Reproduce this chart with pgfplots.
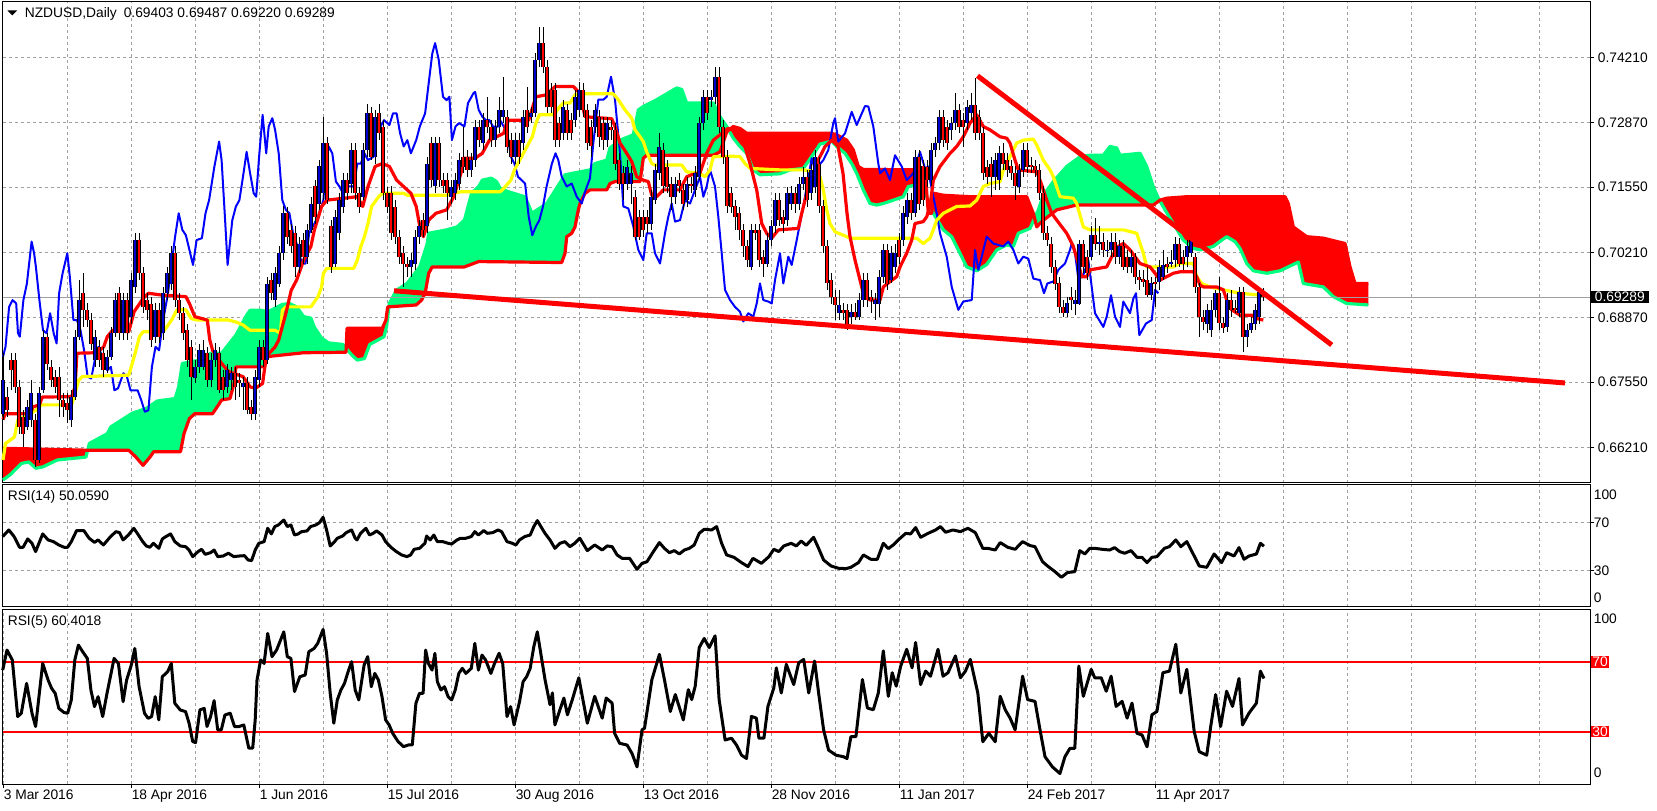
\documentclass[border=0pt]{standalone}
\usepackage{fontspec}
\setmainfont{Liberation Sans}
\usepackage{pgfplots}
\pgfplotsset{compat=1.18}
\usepackage{pgfplotstable}

\definecolor{cloudgreen}{RGB}{0,255,127}
\definecolor{mtred}{RGB}{255,0,0}
\definecolor{mtblue}{RGB}{0,0,255}
\definecolor{bullblue}{RGB}{0,0,205}
\definecolor{mtyellow}{RGB}{255,255,0}
\definecolor{gridgray}{RGB}{160,160,160}

% one screen pixel = 0.25pt
\newcommand\mtfont{\fontsize{3.45}{3.8}\selectfont}

% daily candles NZDUSD, one row per bar (x = 3 + 4*index, in screen px)
\pgfplotstableread{
o h l c
0.6690 0.6814 0.6677 0.6759
0.6725 0.6745 0.6684 0.6697
0.6800 0.6814 0.6738 0.6779
0.6800 0.6814 0.6732 0.6745
0.6745 0.6759 0.6649 0.6663
0.6683 0.6697 0.6622 0.6649
0.6663 0.6718 0.6656 0.6704
0.6677 0.6759 0.6663 0.6732
0.6677 0.6690 0.6581 0.6595
0.6595 0.6745 0.6588 0.6732
0.6738 0.6861 0.6732 0.6848
0.6848 0.6855 0.6779 0.6793
0.6786 0.6800 0.6745 0.6759
0.6766 0.6779 0.6732 0.6745
0.6766 0.6786 0.6683 0.6718
0.6718 0.6732 0.6683 0.6704
0.6711 0.6732 0.6670 0.6697
0.6677 0.6738 0.6663 0.6725
0.6725 0.6861 0.6718 0.6848
0.6848 0.6964 0.6841 0.6923
0.6937 0.6978 0.6868 0.6903
0.6903 0.6916 0.6868 0.6882
0.6882 0.6896 0.6820 0.6834
0.6800 0.6861 0.6786 0.6848
0.6827 0.6841 0.6786 0.6800
0.6814 0.6827 0.6766 0.6779
0.6779 0.6820 0.6773 0.6807
0.6807 0.6868 0.6800 0.6855
0.6855 0.6937 0.6848 0.6923
0.6937 0.6950 0.6841 0.6855
0.6855 0.6937 0.6841 0.6923
0.6923 0.6937 0.6841 0.6855
0.6889 0.6978 0.6875 0.6964
0.6950 0.7060 0.6937 0.7046
0.7046 0.7060 0.6964 0.6978
0.6978 0.6991 0.6896 0.6909
0.6923 0.6937 0.6882 0.6903
0.6916 0.6930 0.6827 0.6841
0.6848 0.6916 0.6834 0.6903
0.6903 0.6916 0.6834 0.6848
0.6855 0.6950 0.6841 0.6937
0.6937 0.6991 0.6923 0.6978
0.6957 0.7033 0.6944 0.7019
0.7019 0.7033 0.6909 0.6923
0.6923 0.6937 0.6882 0.6896
0.6896 0.6909 0.6841 0.6855
0.6861 0.6875 0.6786 0.6800
0.6827 0.6841 0.6718 0.6766
0.6763 0.6800 0.6752 0.6786
0.6786 0.6834 0.6773 0.6820
0.6786 0.6841 0.6779 0.6820
0.6814 0.6827 0.6745 0.6759
0.6759 0.6814 0.6745 0.6800
0.6800 0.6834 0.6786 0.6820
0.6814 0.6827 0.6732 0.6738
0.6766 0.6779 0.6718 0.6738
0.6745 0.6793 0.6732 0.6779
0.6759 0.6786 0.6738 0.6773
0.6773 0.6786 0.6718 0.6745
0.6759 0.6773 0.6725 0.6752
0.6745 0.6766 0.6697 0.6752
0.6752 0.6766 0.6690 0.6697
0.6704 0.6718 0.6677 0.6690
0.6690 0.6779 0.6677 0.6766
0.6759 0.6841 0.6745 0.6827
0.6827 0.6841 0.6786 0.6800
0.6800 0.6971 0.6793 0.6957
0.6964 0.6978 0.6923 0.6937
0.6923 0.6991 0.6909 0.6978
0.6957 0.7033 0.6950 0.7019
0.7019 0.7115 0.7005 0.7101
0.7101 0.7115 0.7039 0.7053
0.7067 0.7080 0.7019 0.7033
0.7060 0.7074 0.6971 0.6991
0.6991 0.7053 0.6978 0.7039
0.7046 0.7060 0.6998 0.7012
0.7012 0.7080 0.6998 0.7067
0.7067 0.7135 0.7060 0.7121
0.7156 0.7169 0.7080 0.7094
0.7121 0.7210 0.7108 0.7197
0.7142 0.7299 0.7128 0.7245
0.7245 0.7258 0.7121 0.7128
0.7074 0.7087 0.6978 0.6991
0.6998 0.7108 0.6991 0.7094
0.7060 0.7142 0.7046 0.7128
0.7115 0.7183 0.7101 0.7169
0.7169 0.7183 0.7128 0.7142
0.7162 0.7245 0.7142 0.7231
0.7231 0.7245 0.7128 0.7142
0.7142 0.7156 0.7101 0.7115
0.7135 0.7245 0.7128 0.7231
0.7231 0.7326 0.7217 0.7306
0.7306 0.7320 0.7210 0.7217
0.7217 0.7313 0.7203 0.7299
0.7306 0.7326 0.7251 0.7265
0.7279 0.7292 0.7128 0.7142
0.7142 0.7156 0.7101 0.7115
0.7142 0.7156 0.7046 0.7060
0.7115 0.7128 0.7039 0.7053
0.7053 0.7067 0.6998 0.7012
0.7019 0.7033 0.6950 0.6998
0.6998 0.7012 0.6971 0.6991
0.6991 0.7019 0.6971 0.7005
0.6998 0.7067 0.6985 0.7053
0.7053 0.7087 0.7039 0.7074
0.7087 0.7101 0.7053 0.7067
0.7074 0.7217 0.7060 0.7203
0.7245 0.7258 0.7156 0.7169
0.7156 0.7258 0.7142 0.7245
0.7245 0.7258 0.7156 0.7169
0.7169 0.7183 0.7142 0.7156
0.7169 0.7183 0.7087 0.7142
0.7135 0.7169 0.7121 0.7156
0.7142 0.7183 0.7128 0.7169
0.7162 0.7224 0.7149 0.7210
0.7217 0.7279 0.7183 0.7197
0.7217 0.7231 0.7176 0.7190
0.7190 0.7224 0.7176 0.7210
0.7210 0.7292 0.7197 0.7279
0.7279 0.7292 0.7238 0.7251
0.7245 0.7306 0.7231 0.7292
0.7292 0.7340 0.7265 0.7279
0.7279 0.7292 0.7238 0.7251
0.7251 0.7292 0.7238 0.7279
0.7279 0.7340 0.7265 0.7313
0.7299 0.7381 0.7286 0.7313
0.7299 0.7313 0.7224 0.7238
0.7251 0.7265 0.7203 0.7217
0.7217 0.7265 0.7203 0.7251
0.7251 0.7265 0.7203 0.7217
0.7245 0.7313 0.7231 0.7299
0.7313 0.7361 0.7265 0.7279
0.7299 0.7320 0.7286 0.7306
0.7306 0.7429 0.7299 0.7416
0.7416 0.7484 0.7402 0.7450
0.7450 0.7484 0.7388 0.7402
0.7402 0.7416 0.7306 0.7320
0.7354 0.7368 0.7306 0.7320
0.7354 0.7368 0.7238 0.7251
0.7286 0.7299 0.7238 0.7251
0.7265 0.7333 0.7251 0.7320
0.7313 0.7326 0.7251 0.7265
0.7292 0.7306 0.7251 0.7265
0.7292 0.7354 0.7279 0.7340
0.7313 0.7371 0.7299 0.7354
0.7354 0.7368 0.7299 0.7313
0.7313 0.7326 0.7231 0.7245
0.7279 0.7292 0.7217 0.7238
0.7279 0.7326 0.7265 0.7313
0.7299 0.7313 0.7238 0.7258
0.7286 0.7299 0.7231 0.7251
0.7251 0.7299 0.7238 0.7286
0.7279 0.7292 0.7251 0.7272
0.7272 0.7286 0.7190 0.7203
0.7210 0.7224 0.7149 0.7162
0.7183 0.7197 0.7128 0.7162
0.7162 0.7210 0.7149 0.7197
0.7162 0.7197 0.7121 0.7183
0.7135 0.7149 0.7046 0.7053
0.7094 0.7108 0.7046 0.7053
0.7094 0.7108 0.7053 0.7067
0.7094 0.7108 0.7060 0.7080
0.7080 0.7149 0.7067 0.7135
0.7128 0.7203 0.7121 0.7190
0.7183 0.7265 0.7169 0.7238
0.7231 0.7245 0.7142 0.7156
0.7197 0.7210 0.7142 0.7156
0.7162 0.7176 0.7108 0.7135
0.7135 0.7176 0.7121 0.7162
0.7169 0.7183 0.7142 0.7156
0.7149 0.7162 0.7108 0.7121
0.7128 0.7176 0.7115 0.7162
0.7162 0.7176 0.7142 0.7156
0.7149 0.7197 0.7135 0.7183
0.7176 0.7299 0.7169 0.7286
0.7286 0.7354 0.7272 0.7340
0.7340 0.7354 0.7292 0.7306
0.7333 0.7354 0.7320 0.7340
0.7340 0.7402 0.7326 0.7381
0.7381 0.7402 0.7265 0.7279
0.7279 0.7292 0.7203 0.7217
0.7217 0.7231 0.7101 0.7115
0.7142 0.7156 0.7101 0.7115
0.7115 0.7128 0.7067 0.7094
0.7101 0.7115 0.7046 0.7067
0.7067 0.7080 0.7012 0.7033
0.7033 0.7046 0.6991 0.7005
0.6991 0.7080 0.6985 0.7067
0.7067 0.7080 0.7046 0.7060
0.7067 0.7080 0.6991 0.7005
0.7012 0.7026 0.6971 0.6998
0.6998 0.7060 0.6991 0.7046
0.7046 0.7087 0.7033 0.7074
0.7074 0.7142 0.7060 0.7128
0.7128 0.7142 0.7074 0.7087
0.7094 0.7108 0.7060 0.7080
0.7087 0.7156 0.7074 0.7142
0.7121 0.7156 0.7108 0.7142
0.7142 0.7156 0.7101 0.7121
0.7121 0.7176 0.7108 0.7162
0.7162 0.7197 0.7149 0.7176
0.7176 0.7190 0.7115 0.7128
0.7142 0.7203 0.7128 0.7190
0.7156 0.7231 0.7142 0.7217
0.7203 0.7217 0.7101 0.7115
0.7115 0.7128 0.7019 0.7033
0.7033 0.7046 0.6944 0.6957
0.6964 0.6978 0.6916 0.6930
0.6930 0.6944 0.6882 0.6913
0.6896 0.6944 0.6882 0.6913
0.6903 0.6916 0.6882 0.6896
0.6903 0.6916 0.6861 0.6875
0.6889 0.6916 0.6875 0.6899
0.6899 0.6916 0.6882 0.6889
0.6889 0.6937 0.6882 0.6923
0.6923 0.6978 0.6909 0.6964
0.6964 0.6978 0.6909 0.6923
0.6930 0.6944 0.6896 0.6923
0.6916 0.6937 0.6882 0.6923
0.6916 0.6985 0.6889 0.6971
0.6971 0.7039 0.6957 0.7026
0.7026 0.7039 0.6944 0.6957
0.6964 0.7033 0.6957 0.7019
0.6991 0.7039 0.6978 0.7019
0.7046 0.7060 0.6998 0.7012
0.7046 0.7115 0.7033 0.7101
0.7094 0.7142 0.7080 0.7128
0.7128 0.7142 0.7087 0.7101
0.7101 0.7231 0.7094 0.7217
0.7217 0.7231 0.7108 0.7121
0.7197 0.7210 0.7115 0.7128
0.7197 0.7210 0.7156 0.7169
0.7169 0.7245 0.7156 0.7231
0.7231 0.7258 0.7217 0.7245
0.7245 0.7313 0.7231 0.7299
0.7299 0.7313 0.7238 0.7251
0.7279 0.7292 0.7231 0.7245
0.7272 0.7299 0.7251 0.7286
0.7286 0.7347 0.7272 0.7313
0.7313 0.7326 0.7265 0.7279
0.7292 0.7306 0.7238 0.7279
0.7286 0.7333 0.7272 0.7320
0.7306 0.7347 0.7292 0.7323
0.7323 0.7378 0.7251 0.7265
0.7299 0.7313 0.7251 0.7265
0.7265 0.7279 0.7169 0.7183
0.7197 0.7210 0.7162 0.7176
0.7203 0.7217 0.7135 0.7176
0.7176 0.7224 0.7149 0.7210
0.7169 0.7238 0.7149 0.7224
0.7224 0.7245 0.7190 0.7203
0.7210 0.7224 0.7176 0.7190
0.7197 0.7210 0.7169 0.7183
0.7183 0.7197 0.7128 0.7156
0.7156 0.7203 0.7142 0.7190
0.7190 0.7245 0.7176 0.7231
0.7231 0.7245 0.7183 0.7197
0.7200 0.7217 0.7183 0.7197
0.7197 0.7210 0.7176 0.7190
0.7190 0.7203 0.7128 0.7142
0.7142 0.7156 0.7046 0.7060
0.7060 0.7074 0.7033 0.7046
0.7039 0.7053 0.6978 0.6991
0.6991 0.7005 0.6944 0.6957
0.6957 0.6971 0.6896 0.6909
0.6909 0.6923 0.6889 0.6896
0.6896 0.6930 0.6889 0.6916
0.6930 0.6950 0.6903 0.6923
0.6916 0.6944 0.6892 0.6923
0.6916 0.7046 0.6913 0.7039
0.7039 0.7046 0.6978 0.6991
0.7012 0.7026 0.6964 0.6978
0.7012 0.7074 0.7005 0.7056
0.7056 0.7091 0.7026 0.7039
0.7039 0.7074 0.7015 0.7043
0.7043 0.7060 0.7012 0.7026
0.7024 0.7046 0.7012 0.7026
0.7026 0.7060 0.7012 0.7043
0.7043 0.7060 0.6998 0.7012
0.7012 0.7046 0.6998 0.7033
0.7033 0.7046 0.6985 0.6991
0.7012 0.7026 0.6978 0.6991
0.6991 0.7026 0.6978 0.7012
0.7012 0.7019 0.6957 0.6971
0.6971 0.6985 0.6944 0.6964
0.6967 0.6985 0.6950 0.6960
0.6964 0.6991 0.6930 0.6934
0.6934 0.6971 0.6923 0.6957
0.6960 0.6971 0.6909 0.6957
0.6960 0.7005 0.6944 0.6991
0.6971 0.7026 0.6964 0.6995
0.6998 0.7012 0.6978 0.6991
0.6998 0.7026 0.6991 0.7002
0.7005 0.7053 0.6991 0.7039
0.7039 0.7050 0.6991 0.6998
0.7012 0.7026 0.6985 0.6998
0.7012 0.7046 0.6991 0.7033
0.7019 0.7053 0.7012 0.7046
0.7012 0.7019 0.6937 0.6950
0.6950 0.6957 0.6848 0.6889
0.6889 0.6903 0.6861 0.6879
0.6875 0.6916 0.6855 0.6903
0.6861 0.6923 0.6848 0.6903
0.6903 0.6944 0.6889 0.6937
0.6937 0.6971 0.6861 0.6875
0.6875 0.6889 0.6855 0.6865
0.6868 0.6937 0.6858 0.6923
0.6923 0.6944 0.6889 0.6903
0.6906 0.6923 0.6896 0.6903
0.6896 0.6950 0.6889 0.6940
0.6940 0.6950 0.6817 0.6848
0.6848 0.6875 0.6827 0.6861
0.6861 0.6889 0.6855 0.6875
0.6875 0.6916 0.6861 0.6903
0.6889 0.6947 0.6875 0.6940
0.69403 0.69487 0.69220 0.69289
}\candles

% Ichimoku: Senkou span A (green) and B (red), shifted 26 bars ahead
\pgfplotstableread{
x y
3 0.6554
10.9 0.6566
18 0.6581
21.6 0.6588
28.7 0.6591
35.9 0.6578
43 0.6581
50.1 0.6588
57.3 0.6595
71.6 0.6598
85.9 0.6601
89.4 0.6629
107.3 0.6649
110.9 0.6663
121.6 0.6677
132.3 0.6691
146.6 0.6701
157.3 0.6716
175.1 0.6721
178.7 0.6745
182.3 0.6793
200.1 0.6800
210.9 0.6814
221.6 0.6814
235.9 0.6851
246.6 0.6892
250.1 0.6902
260.9 0.6902
268 0.6899
282.3 0.6914
289.4 0.6916
296.6 0.6909
303.7 0.6889
310.9 0.6886
314.4 0.6867
321.6 0.6845
328.7 0.6835
343 0.6832
351.9 0.6810
357.3 0.6800
364.4 0.6803
369.7 0.6832
375.1 0.6838
384 0.6848
386.6 0.6869
389.3 0.6916
396.4 0.6943
407 0.6957
419.8 0.6991
427 0.7037
428.7 0.7060
446.6 0.7067
457 0.7073
464.4 0.7087
471.6 0.7142
478.7 0.7156
482.3 0.7169
491.3 0.7173
496.6 0.7166
500.1 0.7152
507.3 0.7146
519.8 0.7138
525 0.7135
532 0.7101
546.7 0.7121
553.3 0.7142
565 0.7180
590 0.7190
595 0.7203
606.7 0.7210
610 0.7235
620 0.7251
633.3 0.7262
638.3 0.7313
643.3 0.7320
656.7 0.7334
676.7 0.7358
681.7 0.7355
686.7 0.7327
713.3 0.7327
720 0.7299
726.7 0.7279
733.3 0.7255
740 0.7238
746.7 0.7224
753.3 0.7190
760 0.7180
780 0.7182
790 0.7190
803.3 0.7193
815 0.7227
820 0.7243
831.7 0.7249
836.7 0.7238
845 0.7224
851.7 0.7203
856.7 0.7183
863.3 0.7149
870 0.7121
876.7 0.7118
883.3 0.7121
903.3 0.7135
908.3 0.7156
916.7 0.7159
923.3 0.7149
928.3 0.7128
933.3 0.7101
943.3 0.7067
951.7 0.7053
960 0.7019
966.7 0.6991
976.7 0.6983
986.7 0.6996
996.7 0.7026
1006.7 0.7036
1013.3 0.7033
1018.3 0.7060
1030 0.7070
1038.3 0.7108
1043.3 0.7138
1053.3 0.7166
1066.7 0.7197
1080 0.7217
1090 0.7220
1103.3 0.7220
1110 0.7238
1116.7 0.7235
1120 0.7220
1140 0.7224
1146.7 0.7197
1153.3 0.7155
1158.3 0.7132
1165 0.7108
1173.3 0.7080
1183.3 0.7046
1193.3 0.7029
1200 0.7026
1213.3 0.7033
1221.7 0.7046
1226.7 0.7053
1235 0.7043
1240 0.7029
1246.7 0.6998
1253.3 0.6983
1266.7 0.6978
1280 0.6983
1298.3 0.7001
1303.3 0.6957
1323.3 0.6950
1333.3 0.6930
1346.7 0.6916
1368.3 0.6913
}\spanA

\pgfplotstableread{
x y
3 0.6619
89.4 0.6615
128.7 0.6615
135.9 0.6601
143 0.6584
150 0.6601
153.7 0.6612
180.5 0.6612
184 0.6649
189.4 0.6680
194.8 0.6690
212.6 0.6690
216.2 0.6701
221.6 0.6718
230 0.6721
234 0.6752
235.9 0.6786
264.4 0.6786
267.3 0.6807
303.7 0.6815
346 0.6816
347 0.6865
382.3 0.6865
385.9 0.6882
387.7 0.6909
416.2 0.6913
421.6 0.6923
425.1 0.6937
428.7 0.6978
432.2 0.6991
464.4 0.6991
478.7 0.7002
561.7 0.7000
565 0.7019
566.7 0.7053
571.7 0.7060
575 0.7073
578.3 0.7108
580 0.7121
585 0.7142
590 0.7149
606.7 0.7149
610 0.7162
615 0.7166
640 0.7166
643.3 0.7214
646.7 0.7220
713.3 0.7220
720 0.7227
726.7 0.7268
733.3 0.7279
740 0.7275
746.7 0.7265
831.7 0.7265
836.7 0.7262
846.7 0.7251
853.3 0.7231
858.3 0.7197
863.3 0.7191
925 0.7190
928.3 0.7101
931.7 0.7101
934 0.7142
943.3 0.7138
970 0.7135
1026.7 0.7135
1033.3 0.7101
1036.7 0.7073
1041.7 0.7084
1056.7 0.7108
1076.7 0.7118
1153.3 0.7118
1160 0.7128
1166.7 0.7132
1186.7 0.7135
1285 0.7135
1288.3 0.7121
1293.3 0.7073
1306.7 0.7053
1323.3 0.7050
1345 0.7039
1350 0.6991
1355 0.6957
1368.3 0.6957
}\spanB

% Tenkan-sen (red)
\pgfplotstableread{
x y
3 0.6678
5.5 0.6690
30.5 0.6690
33 0.6704
39.4 0.6708
42.3 0.6724
71.6 0.6725
75.1 0.6745
76.9 0.6814
96.6 0.6815
103.7 0.6827
107.3 0.6848
112.6 0.6861
128.7 0.6858
134.1 0.6899
143 0.6926
148.4 0.6937
162.6 0.6933
185.9 0.6930
189.4 0.6916
194.8 0.6889
207.3 0.6882
209.8 0.6841
212.6 0.6820
221.6 0.6793
228.7 0.6776
243 0.6766
250.1 0.6745
255.5 0.6742
262.6 0.6752
266.2 0.6807
275.1 0.6827
278.7 0.6841
285.9 0.6896
291.2 0.6943
296.6 0.6964
303.7 0.7005
310.9 0.7033
314.4 0.7067
321.6 0.7115
326.9 0.7128
357.3 0.7135
362.7 0.7115
368 0.7156
375.1 0.7197
382.3 0.7203
389.4 0.7197
396.6 0.7169
410.9 0.7142
416.2 0.7115
419.8 0.7074
423.4 0.7053
428.7 0.7087
435.9 0.7101
446.6 0.7108
453.7 0.7135
460.9 0.7183
464.4 0.7214
475.1 0.7214
482.3 0.7224
489.4 0.7251
503.7 0.7265
507.3 0.7292
528.7 0.7292
535.9 0.7340
546.6 0.7344
555 0.7361
573.3 0.7361
580 0.7347
585 0.7299
611.7 0.7295
615 0.7279
620 0.7245
626.7 0.7224
631.7 0.7207
636.7 0.7176
643.3 0.7169
648.3 0.7166
651.7 0.7138
656.7 0.7135
663.3 0.7149
680 0.7149
686.7 0.7176
691.7 0.7180
700 0.7184
706.7 0.7224
713.3 0.7251
720 0.7262
728 0.7275
735 0.7272
742 0.7258
750 0.7203
756.7 0.7149
761.7 0.7080
766.7 0.7060
771.7 0.7050
778.3 0.7067
798.3 0.7070
801.7 0.7101
805 0.7128
808 0.7149
813 0.7176
818 0.7210
821.7 0.7224
825 0.7238
831.7 0.7251
838 0.7238
843 0.7183
847 0.7101
850 0.7053
855 0.7005
860 0.6964
863.3 0.6937
870 0.6923
880 0.6923
883.3 0.6950
890 0.6961
896.7 0.6971
900 0.6991
906.7 0.7019
911.7 0.7046
915 0.7080
923.3 0.7084
926.7 0.7094
930 0.7115
933.3 0.7169
940 0.7197
950 0.7224
956.7 0.7238
963.3 0.7258
970 0.7286
976.7 0.7303
983.3 0.7279
990 0.7272
1000 0.7258
1006.7 0.7255
1010 0.7245
1015 0.7210
1018.3 0.7190
1036.7 0.7186
1040 0.7169
1046.7 0.7128
1051.7 0.7101
1056.7 0.7087
1060 0.7078
1066.7 0.7060
1073.3 0.7033
1078.3 0.6998
1081.7 0.6971
1086.7 0.6971
1090 0.6985
1106.7 0.6991
1111.7 0.7012
1118.3 0.7033
1123.3 0.7039
1130 0.7026
1140 0.6998
1150 0.6991
1155 0.6978
1160 0.6964
1166.7 0.6971
1173.3 0.6978
1180 0.6981
1193.3 0.6981
1196.7 0.6971
1200 0.6954
1203.3 0.6950
1216.7 0.6950
1223.3 0.6944
1226.7 0.6923
1231.7 0.6903
1240 0.6892
1251.7 0.6892
1256.7 0.6885
1263.3 0.6882
}\tenkan

% Kijun-sen (yellow)
\pgfplotstableread{
x y
3 0.6595
5.5 0.6629
14.4 0.6642
18 0.6678
25.1 0.6684
35.9 0.6697
41.2 0.6708
71.6 0.6708
75.1 0.6732
78.7 0.6759
82.3 0.6766
128.7 0.6769
132.3 0.6793
135.9 0.6820
139.4 0.6848
143 0.6858
157.3 0.6858
164.4 0.6861
171.6 0.6882
176.9 0.6903
185.9 0.6903
191.2 0.6885
196.6 0.6882
228.7 0.6882
235.9 0.6878
243 0.6872
250.1 0.6861
275.1 0.6861
280.5 0.6855
282.3 0.6902
285.9 0.6909
310.9 0.6909
318 0.6930
321.6 0.6950
323.4 0.6978
326.9 0.6988
353.7 0.6988
357.3 0.7005
360.9 0.7033
364.4 0.7053
368 0.7080
371.6 0.7115
378.7 0.7135
382.3 0.7142
403.7 0.7142
407.3 0.7138
446.6 0.7138
452 0.7142
460.9 0.7145
500.1 0.7145
503.7 0.7152
510.9 0.7169
514.4 0.7190
521.6 0.7217
527 0.7238
532.3 0.7258
535.9 0.7286
539.4 0.7303
551.7 0.7303
555 0.7306
560 0.7320
563.3 0.7327
570 0.7327
575 0.7344
580 0.7346
613.3 0.7346
618.3 0.7334
625 0.7313
631.7 0.7296
635 0.7272
640 0.7258
643.3 0.7248
646.7 0.7227
651.7 0.7203
655 0.7200
681.7 0.7200
686.7 0.7186
700 0.7183
705 0.7176
710 0.7190
713.3 0.7217
733.3 0.7218
740 0.7217
745 0.7203
750 0.7193
780 0.7190
803.3 0.7190
816.7 0.7186
820 0.7176
823.3 0.7149
826.7 0.7108
830 0.7080
835 0.7063
843.3 0.7056
850 0.7050
916.7 0.7050
923.3 0.7039
930 0.7050
933.3 0.7067
936.7 0.7087
943.3 0.7101
950 0.7108
956.7 0.7115
970 0.7116
976.7 0.7128
983.3 0.7156
990 0.7162
1000 0.7166
1003.3 0.7190
1010 0.7217
1016.7 0.7245
1023.3 0.7251
1033.3 0.7253
1036.7 0.7241
1043.3 0.7210
1050 0.7190
1053.3 0.7176
1060 0.7135
1073.3 0.7132
1076.7 0.7121
1083.3 0.7073
1090 0.7067
1123.3 0.7067
1136.7 0.7060
1143.3 0.7019
1146.7 0.6991
1173.3 0.6991
1180 0.6998
1193.3 0.6998
1196.7 0.6971
1201.7 0.6957
1210 0.6950
1223.3 0.6944
1240 0.6937
1260 0.6933
}\kijun

% Chikou span (blue), shifted 26 bars back
\pgfplotstableread{
x y
3 0.6807
5.5 0.6827
9.1 0.6909
12.6 0.6923
16.2 0.6916
18 0.6855
19.8 0.6848
23.4 0.6923
26.9 0.6957
31.6 0.7043
34.1 0.7019
35.9 0.6991
39.4 0.6923
43 0.6861
46.6 0.6855
50.1 0.6896
53.7 0.6855
56.6 0.6834
59.1 0.6937
62.6 0.6978
67.3 0.7019
69.8 0.6971
73.4 0.6882
76.9 0.6882
80.5 0.6861
84.1 0.6820
87.6 0.6766
91.2 0.6762
94.8 0.6800
98.4 0.6827
103.7 0.6800
107.3 0.6779
110.9 0.6786
114.4 0.6738
118 0.6742
123.4 0.6773
126.9 0.6766
130.5 0.6738
137.6 0.6738
141.2 0.6718
144.8 0.6694
148.4 0.6697
151.9 0.6786
155.5 0.6827
159.1 0.6820
162.6 0.6875
168 0.6937
171.6 0.6998
175.1 0.7053
178.7 0.7101
182.3 0.7067
185.9 0.7056
189.4 0.7026
193 0.6995
196.6 0.7046
201.9 0.7050
205.5 0.7101
209.1 0.7128
214.4 0.7197
219.1 0.7248
221.6 0.7210
225.1 0.7087
227.6 0.6995
232.3 0.7087
235.9 0.7115
239.4 0.7128
243 0.7176
246.6 0.7227
250.1 0.7183
253.7 0.7142
256.2 0.7135
259.1 0.7217
262.6 0.7303
266.2 0.7224
268.7 0.7279
272.3 0.7296
275.1 0.7272
278.7 0.7224
282.3 0.7128
285.9 0.7108
289.4 0.7101
293 0.7060
296.6 0.7039
301.9 0.6998
305.5 0.6998
309.1 0.7060
314.4 0.7080
318 0.7094
323.4 0.7128
325.9 0.7203
328.7 0.7238
332.3 0.7224
335.9 0.7166
339.4 0.7156
343 0.7142
348.4 0.7156
353.7 0.7156
357.3 0.7203
360.9 0.7203
364.4 0.7224
368 0.7210
373.4 0.7217
376.9 0.7296
380.5 0.7279
384.1 0.7292
389.4 0.7282
393 0.7306
396.6 0.7306
400.1 0.7265
403.7 0.7238
407.3 0.7251
410.9 0.7224
416.2 0.7251
419.8 0.7279
425.1 0.7306
428.7 0.7368
432.3 0.7429
435.1 0.7450
438.7 0.7416
443 0.7340
446.6 0.7333
449.4 0.7340
451.9 0.7251
455.5 0.7279
459.1 0.7286
464.4 0.7279
468 0.7327
473.4 0.7347
475.1 0.7350
478.7 0.7313
482.3 0.7299
485.9 0.7292
489.4 0.7292
493 0.7279
498.4 0.7279
500.1 0.7292
503.7 0.7279
507.3 0.7265
510.9 0.7217
514.4 0.7203
518 0.7176
525.1 0.7162
528.7 0.7094
532.3 0.7056
535.9 0.7074
539.4 0.7087
543 0.7115
546.6 0.7156
551.9 0.7203
555.5 0.7224
558.3 0.7210
561.7 0.7176
566.7 0.7156
571.7 0.7162
576.7 0.7135
581.7 0.7121
585 0.7145
590 0.7173
593.3 0.7245
598.3 0.7334
603.3 0.7334
606.7 0.7340
611 0.7381
615 0.7334
620 0.7224
623.3 0.7115
628.3 0.7111
633.3 0.7074
638.3 0.7026
643.3 0.7005
646.7 0.7060
651.7 0.7060
655 0.7019
660 0.6998
665 0.7060
668.3 0.7094
671.7 0.7121
675 0.7084
680 0.7087
685 0.7128
690 0.7121
695 0.7149
700 0.7176
703.3 0.7135
706.7 0.7156
710 0.7190
715 0.7156
718.3 0.7094
721.7 0.7019
725 0.6944
730 0.6923
735 0.6909
740 0.6899
743.3 0.6879
748.3 0.6896
753.3 0.6889
756.7 0.6916
760 0.6957
763.3 0.6923
768.3 0.6920
771.7 0.6916
775 0.6964
780 0.7019
783.3 0.6957
788.3 0.7012
791.7 0.6995
796.7 0.7046
803.3 0.7115
811.7 0.7214
815 0.7190
823.3 0.7210
828.3 0.7231
833.3 0.7286
835 0.7296
838.3 0.7248
845 0.7265
851.7 0.7309
856.7 0.7282
865 0.7321
868.3 0.7320
873.3 0.7279
878.3 0.7203
880 0.7183
885 0.7193
890 0.7169
895 0.7220
901.7 0.7197
906.7 0.7169
913.3 0.7183
920 0.7227
925 0.7193
928.3 0.7197
930 0.7169
936.7 0.7101
940 0.7060
946.7 0.7012
951.7 0.6950
958.3 0.6903
963.3 0.6920
971.7 0.6923
973.3 0.6971
975 0.7026
978.3 0.6985
981.7 0.7012
986.7 0.7053
993.3 0.7039
1003.3 0.7033
1008.3 0.7043
1013.3 0.7026
1018.3 0.6998
1023.3 0.7012
1028.3 0.7008
1033.3 0.6967
1040 0.6964
1044 0.6937
1047.3 0.6957
1053.3 0.6961
1058.3 0.6985
1065 0.6998
1070 0.7026
1071.7 0.7039
1075 0.7019
1078.3 0.6967
1082.7 0.6971
1088.3 0.7005
1091.7 0.6950
1095 0.6896
1103.3 0.6868
1106.7 0.6889
1111 0.6933
1115 0.6889
1120 0.6868
1123.3 0.6920
1130 0.6896
1133.3 0.6926
1136 0.6937
1139.3 0.6851
1146 0.6875
1151.7 0.6882
1155 0.6944
1158.3 0.6937
}\chikou

% RSI(14)
\pgfplotstableread{
x y
2.7 58.1
8.8 63.6
14.1 58.1
19.5 49.2
23.1 49.2
27.7 56.1
32 52.5
35.6 45.6
42.7 60.3
48.1 55.3
53.4 53.9
58.8 51.1
64.1 49.2
67.7 49.2
71.3 53.9
76.6 63.1
83.8 63.1
89.1 56.7
94.5 53.3
98.1 55.3
103.4 51.1
110.6 58.1
115.9 62.2
119.5 61.4
123.1 55.3
128.4 59.4
133.8 65
137.3 60.8
142.7 53.9
146.3 50.3
149.8 49.2
153.4 52.5
158.8 48.3
162.3 56.1
165.9 58.1
170.6 60.3
174.8 53.9
180.2 50.3
185.6 49.7
189.1 46.9
192.7 41.4
198.1 45.6
201.6 47.5
205.2 43.3
210.6 44.7
214.1 46.9
217.7 41.4
223.1 41.9
228.4 44.2
233.8 41.4
239.1 41.9
244.5 42.2
248.1 38.6
251.6 38.1
255.2 46.9
258.8 52.5
264.1 53.9
267.7 65
271.3 60.3
274.8 66.4
278.4 67.8
283.8 71.9
287.3 66.4
290.9 67.8
294.5 59.4
298.1 60.3
301.6 62.2
307 62.8
310.6 66.4
315.9 67.8
319.5 69.7
323.1 74.2
326.6 63.6
330.2 50.3
333.8 53.1
337.3 56.7
342.7 58.6
346.3 61.4
351.6 63.6
355.2 56.7
357 55.3
360.6 60.8
365.9 65
369.5 59.4
373.1 60.8
376.6 62.8
382 59.4
385.6 53.9
390.9 49.2
396.3 45.6
401.6 42.8
407 41.4
410.6 42.8
414.1 47.5
419.5 48.3
424.9 52.5
426.6 58.6
430.2 55.3
433.8 59.4
437.3 53.9
442.7 53.9
448.1 52.5
451.6 51.9
457 55.3
460.6 56.7
465.9 56.7
471.3 58.1
474.8 62.2
478.4 59.4
483.8 63.1
487.3 60.8
492.7 61.4
498.1 63.6
501.6 62.2
507 53.9
512.3 52.5
515.9 51.1
519.5 55.3
524.8 58.1
530.2 59.4
533.8 66.4
537.3 71.4
540.9 66.4
545 60.8
550 55.3
554.9 48.3
559.9 52.5
564.9 53.9
569.9 49.7
574.8 52.5
579.8 56.7
587.3 46.4
594.7 51.1
602.2 46.9
607.2 50.3
612.1 49.7
617.1 42.8
622.1 40
629.6 40
637 30.8
642 35.8
647 37.2
653.4 45.6
659.4 53.1
664.4 48.3
669.4 44.7
674.3 46.4
679.3 43.6
684.3 46.9
689.3 48.3
694.2 51.1
699.2 60.8
704.2 64.2
711.6 63.6
716.6 66.4
721.6 52.5
726.6 42.8
734 40.8
741.5 36.4
748 33.1
752.9 40
761.4 35.8
768.9 41.4
773.8 47.5
778.8 45.6
783.8 50.3
791.2 52.5
796.2 50.3
801.2 54.4
806.2 50.8
813.6 57.5
818.6 48.3
823.6 38.6
831 33.6
838.5 31.7
846 31.4
850.9 32.5
858.4 36.4
863.4 42.8
870.8 39.2
877.3 39.2
883.3 52.5
888.3 48.1
893.2 51.1
898.2 55.3
905.7 60.8
910.6 60.3
915.6 65.6
920.6 57.5
928.1 60.8
935.5 63.6
940.5 66.4
945.5 61.7
952.9 63.6
960.4 62.2
967.9 65
975.3 61.4
982.8 48.3
987.8 48.3
995.2 46.9
1000.2 53.1
1007.7 49.2
1015.1 47.5
1022.6 53.9
1030 50.6
1035 49.7
1042.5 37.2
1047.5 33.6
1054.9 28.9
1061.4 24.2
1067.4 28.1
1074.8 28.9
1079.8 46.4
1084.8 43.6
1089.8 48.3
1094.7 48.3
1102.2 47.5
1109.7 46.9
1114.6 48.9
1119.6 45.6
1124.6 44.2
1131 46.4
1137 40.8
1142 40.8
1147 36.4
1151.9 40.8
1156.9 41.4
1164.4 48.3
1169.4 49.7
1175.8 55.3
1180.8 49.7
1186.8 53.9
1194.2 41.9
1199.2 33.6
1206.7 32.5
1214.1 43.6
1221.6 36.4
1226.6 44.7
1234 41.9
1239 48.9
1244 39.2
1249 41.9
1256.4 43.6
1260.4 52.5
1263.9 50.06
}\rsifourteen

% RSI(5)
\pgfplotstableread{
x y
2.7 65.2
7 76.7
12.3 71
17.7 38.6
21.3 40.5
26.6 57.6
32 40.5
35.6 32.9
42.7 69
48.1 59.5
51.6 54.8
55.2 51.9
58.8 43.3
64.1 40.9
67.7 40.5
71.3 48.1
74.8 71
78.4 79.5
82.7 75.7
87.3 71.9
90.9 53.8
94.5 44.3
98.1 50
102.7 38.6
107 51.9
114.1 71.9
118.4 69
123.1 47.1
126.6 59.5
131.3 68.1
134.8 77.6
139.1 55.7
144.5 40.5
148.1 37.6
151.6 38.6
155.2 50
158.8 36.7
162.3 61.4
167.7 64.3
171.3 69
174.8 46.2
180.2 42.4
185.6 41.4
189.1 34.8
192.7 24.3
195.6 23.7
199.9 42.4
204.2 43.3
207 32.9
210.6 38.6
214.1 47.7
217.7 31
221.3 31
224.9 39.5
230.2 40.5
234.5 32.9
239.1 32.9
243.8 33.8
246.3 27.1
248.8 20.5
252.7 20.5
255.2 36.7
257 59.5
260.6 71
264.1 69
267.7 86.2
272 72.9
276.6 76.7
283.8 87.1
287.3 72.9
290.9 71.9
294.5 52.9
299.8 61.4
305.2 62.4
308.8 75.7
314.1 77.6
317.7 80.5
323.1 88.5
326.6 74.8
330.2 51.9
333.8 34.8
337.3 48.1
340.9 53.8
344.5 57.6
348.1 64.3
351.6 70
355.2 53.8
358.8 48.1
364.1 68.1
367.7 72.9
371.3 55.7
374.8 63.3
378.4 59.5
382 50
385.6 36.7
389.1 33.8
392.7 29
398.1 24.3
403.4 21.4
408.8 22.4
412.3 22.4
415.9 46.2
419.5 51.9
423.1 51.9
425.6 76.7
428.4 69
432 65.2
434.9 74.8
437.3 58.6
440.9 53.8
444.5 55.7
448.1 50
451.6 48.1
455.2 53.8
458.8 63.3
462.3 66.2
465.9 63.3
471.3 66.2
474.8 80.5
478.4 65.2
482 73.8
485.6 71
490.9 63.3
494.5 69
499.1 74.8
502.7 69
507 38.6
510.6 44.3
514.1 33.8
519.5 47.1
523.1 58.6
526.6 61.4
530.2 66.2
533.8 78.6
537.3 87.1
545 59.8
550 45.4
552.4 52.1
554.9 33.8
559.9 42.5
563.9 49.2
567.4 39.6
572.3 48.3
578.8 60.8
587.3 34.8
594.7 50.2
602.2 37.7
606.2 49.2
612.1 46.3
614.6 29
619.6 23.3
627.1 22.3
632 17.5
637 9.8
642 31
644.5 31.9
651.9 59.8
659.4 74.2
664.4 59.8
670.3 41.5
675.3 51.2
683.3 36.7
688.3 54
691.7 48.3
695.2 56
699.2 78.1
704.2 83.3
709.2 78.1
715.1 84.8
719.1 48.3
725.1 25.2
731.5 26.2
736.5 22.3
741.5 16.5
746.5 14.6
751.4 38.7
756.4 37.7
758.9 26.2
763.9 26.2
767.9 44.4
773.8 55
776.3 66.5
781.3 52.1
786.3 68.5
793.7 56.9
798.7 69.4
803.7 71.3
808.7 52.1
814.6 70.4
818.6 52.1
823.6 31
828.6 19.4
836 16.5
843.5 15.6
847 14.6
850.9 27.1
855.9 27.1
862.4 59.8
867.4 43.5
873.3 42.5
878.3 52.1
883.3 76.2
888.3 50.2
892.2 63.7
896.2 56
900.7 67.5
906.7 77.1
912.1 66.5
915.6 81
920.6 56.9
925.6 64.6
930.5 61.7
938 77.1
943 61.7
948 63.7
955.4 73.3
960.4 60.8
965.4 64.6
970.3 71.3
977.8 52.1
982.8 24.2
988.8 29
995.2 24.2
1000.2 50.2
1005.2 42.5
1010.1 37.7
1015.1 31
1022.6 61.7
1027.6 48.3
1035 47.3
1040 31
1045 15.6
1052.4 9.8
1059.9 6
1064.9 15.6
1069.9 20.4
1074.8 20.4
1078.8 67.5
1083.3 50.2
1091.2 65.6
1094.7 60.8
1101.2 60.8
1106.2 53.1
1111.1 61.7
1116.1 44.4
1122.1 47.3
1127.1 37.7
1132 46.3
1137 29
1142 28.1
1147 21.3
1151.9 39.6
1156.9 41.5
1162.9 63.7
1169.4 64.6
1175.8 80
1180.8 52.1
1186.8 65.6
1194.2 30
1199.2 18.5
1206.7 16.5
1210.7 32.9
1215.6 51.2
1220.6 32.9
1226.6 53.1
1232.5 44.4
1239 60.4
1242.5 33.8
1249 40.6
1256.4 46.3
1260.4 64.6
1263.9 60.4
}\rsifive

\pgfplotsset{
  mtaxis/.style={
    scale only axis, width=396.825pt,
    xmin=2.7, xmax=1590,
    axis line style={black, line width=0.25pt},
    xtick={131,259,387,515,643,771,899,1027,1155},
    minor xtick={67,195,323,451,579,707,835,963,1091,1219,1283,1347,1411,1475,1539},
    xmajorgrids, xminorgrids,
    grid style={gridgray, line width=0.2pt, dash pattern=on 0.75pt off 0.75pt},
    minor grid style={gridgray, line width=0.2pt, dash pattern=on 0.75pt off 0.75pt},
    xticklabels={},
    minor tick length=0pt,
    major tick length=1pt,
    tick align=outside,
    ytick pos=right, yticklabel pos=right,
    ticklabel style={font=\mtfont},
    ytick style={black, line width=0.2pt},
    clip=false,
  },
  cloudred/.style={fill=mtred, draw=none},
  cloudgrn/.style={fill=cloudgreen, draw=none},
  candle/.style={draw=none, mark=none, error bars/y dir=both, error bars/y explicit,
    error bars/error mark=none},
}
\tikzset{rsilabel/.style={font=\mtfont, anchor=west, inner sep=0.25pt}}

\begin{document}
\begin{tikzpicture}
\useasboundingbox (0,0) rectangle (414.25pt,-202.75pt);

% ---------------- price panel ----------------
\begin{axis}[mtaxis, at={(0.675pt,-0.425pt)}, anchor=north west, height=120.25pt,
  ymin=0.65484, ymax=0.75350,
  ytick={0.66210,0.67550,0.68870,0.70210,0.71550,0.72870,0.74210},
  yticklabels={0.66210,0.67550,0.68870,0.70210,0.71550,0.72870,0.74210},
  ymajorgrids, xtick style={draw=none},
  yticklabel style={anchor=west, inner sep=0pt, xshift=0.75pt}]

  % kumo: span B over span A = red, span A over span B = green
  \addplot[cloudred] coordinates {(3,0.6619) (87.65,0.6615) (85.9,0.6601) (71.6,0.6598)
    (57.3,0.6595) (50.1,0.6588) (43,0.6581) (35.9,0.6578) (28.7,0.6591) (21.6,0.6588)
    (18,0.6581) (10.9,0.6566) (3,0.6554)};
  \addplot[cloudgrn] coordinates {(87.65,0.6615) (89.4,0.6629) (107.3,0.6649) (110.9,0.6663)
    (121.6,0.6677) (132.3,0.6691) (146.6,0.6701) (157.3,0.6716) (175.1,0.6721) (178.7,0.6745)
    (182.3,0.6793) (200.1,0.6800) (210.9,0.6814) (221.6,0.6814) (235.9,0.6851) (246.6,0.6892)
    (250.1,0.6902) (260.9,0.6902) (268,0.6899) (282.3,0.6914) (289.4,0.6916) (296.6,0.6909)
    (303.7,0.6889) (310.9,0.6886) (314.4,0.6867) (321.6,0.6845) (328.7,0.6835) (343,0.6832)
    (346.17,0.6824) (346,0.6816) (303.7,0.6815) (267.3,0.6807) (264.4,0.6786) (235.9,0.6786)
    (234,0.6752) (230,0.6721) (221.6,0.6718) (216.2,0.6701) (212.6,0.6690) (194.8,0.6690)
    (189.4,0.6680) (184,0.6649) (180.5,0.6612) (153.7,0.6612) (150,0.6601) (143,0.6584)
    (135.9,0.6601) (128.7,0.6615) (89.4,0.6615)};
  \addplot[cloudred] coordinates {(346.17,0.6824) (347,0.6865) (382.3,0.6865) (385.9,0.6882)
    (387.7,0.6909) (388.9,0.6909) (386.6,0.6869) (384,0.6848) (375.1,0.6838) (369.7,0.6832)
    (364.4,0.6803) (357.3,0.6800) (351.9,0.6810)};
  \addplot[cloudgrn] coordinates {(388.9,0.6909) (389.3,0.6916) (396.4,0.6943) (407,0.6957)
    (419.8,0.6991) (427,0.7037) (428.7,0.7060) (446.6,0.7067) (457,0.7073) (464.4,0.7087)
    (471.6,0.7142) (478.7,0.7156) (482.3,0.7169) (491.3,0.7173) (496.6,0.7166) (500.1,0.7152)
    (507.3,0.7146) (519.8,0.7138) (525,0.7135) (532,0.7101) (546.7,0.7121) (553.3,0.7142)
    (565,0.7180) (590,0.7190) (595,0.7203) (606.7,0.7210) (610,0.7235) (620,0.7251)
    (633.3,0.7262) (638.3,0.7313) (643.3,0.7320) (656.7,0.7334) (676.7,0.7358) (681.7,0.7355)
    (686.7,0.7327) (713.3,0.7327) (720,0.7299) (726.7,0.7279) (728.8,0.7272)
    (726.7,0.7268) (720,0.7227) (713.3,0.7220) (646.7,0.7220) (643.3,0.7214) (640,0.7166)
    (615,0.7166) (610,0.7162) (606.7,0.7149) (590,0.7149) (585,0.7142) (580,0.7121)
    (578.3,0.7108) (575,0.7073) (571.7,0.7060) (566.7,0.7053) (565,0.7019) (561.7,0.7000)
    (478.7,0.7002) (464.4,0.6991) (432.2,0.6991) (428.7,0.6978) (425.1,0.6937) (421.6,0.6923)
    (416.2,0.6913)};
  \addplot[cloudred] coordinates {(728.8,0.7272) (733.3,0.7279) (740,0.7275) (746.7,0.7265)
    (831.7,0.7265) (836.7,0.7262) (846.7,0.7251) (853.3,0.7231) (858.3,0.7197) (863.3,0.7191)
    (925,0.7190) (927.1,0.7133) (923.3,0.7149) (916.7,0.7159) (908.3,0.7156) (903.3,0.7135)
    (883.3,0.7121) (876.7,0.7118) (870,0.7121) (863.3,0.7149) (856.7,0.7183) (851.7,0.7203)
    (845,0.7224) (836.7,0.7238) (831.7,0.7249) (820,0.7243) (815,0.7227) (803.3,0.7193)
    (790,0.7190) (780,0.7182) (760,0.7180) (753.3,0.7190) (746.7,0.7224) (740,0.7238)
    (733.3,0.7255)};
  \addplot[cloudgrn] coordinates {(927.1,0.7133) (928.3,0.7128) (932.1,0.7109)
    (931.7,0.7101) (928.3,0.7101)};
  \addplot[cloudred] coordinates {(932.1,0.7109) (934,0.7142) (943.3,0.7138) (970,0.7135)
    (1026.7,0.7135) (1033.3,0.7101) (1034.5,0.7091) (1030,0.7070) (1018.3,0.7060)
    (1013.3,0.7033) (1006.7,0.7036) (996.7,0.7026) (986.7,0.6996) (976.7,0.6983)
    (966.7,0.6991) (960,0.7019) (951.7,0.7053) (943.3,0.7067) (933.3,0.7101)};
  \addplot[cloudgrn] coordinates {(1034.5,0.7091) (1038.3,0.7108) (1043.3,0.7138)
    (1053.3,0.7166) (1066.7,0.7197) (1080,0.7217) (1090,0.7220) (1103.3,0.7220)
    (1110,0.7238) (1116.7,0.7235) (1120,0.7220) (1140,0.7224) (1146.7,0.7197)
    (1153.3,0.7155) (1158.3,0.7132) (1159.6,0.7127) (1153.3,0.7118) (1076.7,0.7118)
    (1056.7,0.7108) (1041.7,0.7084) (1036.7,0.7073)};
  \addplot[cloudred] coordinates {(1159.6,0.7127) (1160,0.7128) (1166.7,0.7132)
    (1186.7,0.7135) (1285,0.7135) (1288.3,0.7121) (1293.3,0.7073) (1306.7,0.7053)
    (1323.3,0.7050) (1345,0.7039) (1350,0.6991) (1355,0.6957) (1368.3,0.6957)
    (1368.3,0.6913) (1346.7,0.6916) (1333.3,0.6930) (1323.3,0.6950) (1303.3,0.6957)
    (1298.3,0.7001) (1280,0.6983) (1266.7,0.6978) (1253.3,0.6983) (1246.7,0.6998)
    (1240,0.7029) (1235,0.7043) (1226.7,0.7053) (1221.7,0.7046) (1213.3,0.7033)
    (1200,0.7026) (1193.3,0.7029) (1183.3,0.7046) (1173.3,0.7080) (1165,0.7108)};
  \addplot[cloudgreen, line width=0.8pt, line join=round] table {\spanA};
  \addplot[mtred, line width=0.8pt, line join=round] table {\spanB};

  \addplot[gridgray, line width=0.25pt] coordinates {(2.7,0.69289) (1590,0.69289)};

  \addplot[mtblue, line width=0.5pt, line join=round] table {\chikou};
  \addplot[mtyellow, line width=0.8pt, line join=round] table {\kijun};
  \addplot[mtred, line width=0.8pt, line join=round] table {\tenkan};

  % candles: wicks, then bodies (black outline, coloured core)
  \addplot[candle, error bars/error bar style={draw=black, line width=0.25pt}]
    table[x expr=3+4*\coordindex, y expr=(\thisrow{h}+\thisrow{l})/2,
          y error expr=(\thisrow{h}-\thisrow{l})/2] {\candles};
  \addplot[candle, restrict expr to domain={\thisrow{c}-\thisrow{o}}{0:1},
    error bars/error bar style={draw=black, line width=0.85pt}]
    table[x expr=3+4*\coordindex, y expr=(\thisrow{o}+\thisrow{c})/2,
          y error expr=abs(\thisrow{c}-\thisrow{o})/2] {\candles};
  \addplot[candle, restrict expr to domain={\thisrow{c}-\thisrow{o}}{0:1},
    error bars/error bar style={draw=bullblue, line width=0.4pt}]
    table[x expr=3+4*\coordindex, y expr=(\thisrow{o}+\thisrow{c})/2,
          y error expr=abs(\thisrow{c}-\thisrow{o})/2] {\candles};
  \addplot[candle, restrict expr to domain={\thisrow{c}-\thisrow{o}}{-1:0},
    error bars/error bar style={draw=black, line width=0.85pt}]
    table[x expr=3+4*\coordindex, y expr=(\thisrow{o}+\thisrow{c})/2,
          y error expr=abs(\thisrow{c}-\thisrow{o})/2] {\candles};
  \addplot[candle, restrict expr to domain={\thisrow{c}-\thisrow{o}}{-1:0},
    error bars/error bar style={draw=mtred, line width=0.4pt}]
    table[x expr=3+4*\coordindex, y expr=(\thisrow{o}+\thisrow{c})/2,
          y error expr=abs(\thisrow{c}-\thisrow{o})/2] {\candles};

  % trend lines
  \addplot[mtred, line width=1.25pt] coordinates {(394,0.6942) (1565,0.6753)};
  \addplot[mtred, line width=1.25pt] coordinates {(977.5,0.7383) (1331.7,0.6831)};

  \node[fill=black, text=white, font=\mtfont, anchor=west, inner xsep=1pt, inner ysep=0.25pt]
    at (axis cs:1590,0.69289) {0.69289};
\end{axis}

% ---------------- RSI(14) ----------------
\begin{axis}[mtaxis, at={(0.675pt,-121.175pt)}, anchor=north west, height=30.5pt,
  ymin=-0.3, ymax=101.3, ytick={30,70}, yticklabels={}, ymajorgrids,
  xtick style={draw=none}]
  \addplot[black, line width=0.75pt, line join=round] table {\rsifourteen};
  \node[rsilabel] at (axis cs:1592,93) {100};
  \node[rsilabel] at (axis cs:1592,70) {70};
  \node[rsilabel] at (axis cs:1592,30) {30};
  \node[rsilabel] at (axis cs:1592,7) {0};
\end{axis}

% ---------------- RSI(5) ----------------
\begin{axis}[mtaxis, at={(0.675pt,-152.325pt)}, anchor=north west, height=43.675pt,
  ymin=0, ymax=100, ytick=\empty,
  xtick={3,131,259,387,515,643,771,899,1027,1155},
  xticklabels={3 Mar 2016,18 Apr 2016,1 Jun 2016,15 Jul 2016,30 Aug 2016,13 Oct 2016,28 Nov 2016,11 Jan 2017,24 Feb 2017,11 Apr 2017},
  xtick pos=bottom,
  xtick style={black, line width=0.2pt},
  xticklabel style={anchor=north west, inner sep=0pt, yshift=-0.25pt}]
  \addplot[mtred, line width=0.5pt] coordinates {(2.7,70) (1590,70)};
  \addplot[mtred, line width=0.5pt] coordinates {(2.7,30) (1590,30)};
  \addplot[black, line width=0.75pt, line join=round] table {\rsifive};
  \node[rsilabel] at (axis cs:1592,94.5) {100};
  \node[rsilabel] at (axis cs:1592,6.4) {0};
  \node[rsilabel, fill=mtred, text=white] at (axis cs:1590.5,70) {70};
  \node[rsilabel, fill=mtred, text=white] at (axis cs:1590.5,30) {30};
\end{axis}

% panel captions
\fill[black] (1.875pt,-2.625pt) -- (4.25pt,-2.625pt) -- (3.0625pt,-3.875pt) -- cycle;
\node[anchor=west, font=\mtfont, inner sep=0pt] at (6pt,-3.5pt)
  {NZDUSD,Daily\hspace{1.75pt}0.69403 0.69487 0.69220 0.69289};
\node[anchor=west, font=\mtfont, inner sep=0pt] at (1.75pt,-124.175pt) {RSI(14) 50.0590};
\node[anchor=west, font=\mtfont, inner sep=0pt] at (1.75pt,-155.575pt) {RSI(5) 60.4018};
\end{tikzpicture}
\end{document}
